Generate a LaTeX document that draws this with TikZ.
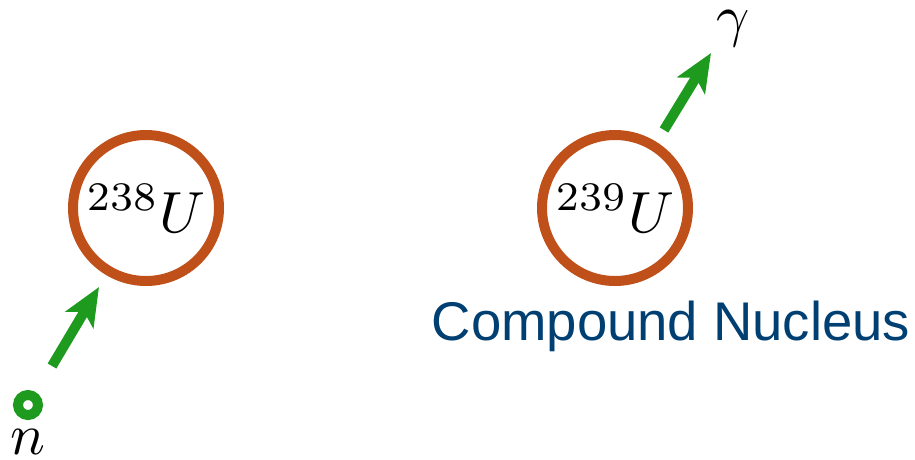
\documentclass[tikz,border=0pt]{standalone}
\usepackage{graphicx}
\usepackage{fontspec}
\newfontfamily\labelfont{Liberation Sans}
\usetikzlibrary{arrows.meta}
\definecolor{nucorange}{RGB}{192,80,26}
\definecolor{ngreen}{RGB}{30,154,30}
\definecolor{nblue}{RGB}{0,63,114}
\begin{document}
\begin{tikzpicture}[x=1pt,y=-1pt,
  nucleus/.style={circle,draw=nucorange,line width=10pt,minimum size=146pt,inner sep=0pt},
  particle/.style={draw=ngreen,line width=10pt,-{Stealth[length=38pt,width=32pt,inset=9pt]}},
  mathlbl/.style={inner sep=0pt,anchor=base}]
\useasboundingbox (0,0) rectangle (915,459);
\node[nucleus] (u238) at (146,208) {};
\node[nucleus] (u239) at (615,208) {};
\node[mathlbl] (l238) at (146,232) {\scalebox{5.8}{$^{238}U$}};
\node[mathlbl] (l239) at (615,232) {\scalebox{5.8}{$^{239}U$}};
\node[circle,draw=ngreen,line width=10pt,minimum size=20pt,inner sep=0pt] (neut) at (28,405) {};
\node[mathlbl] (nlbl) at (28,454) {\scalebox{5.8}{$n$}};
\node[mathlbl] (glbl) at (733,35) {\scalebox{5.8}{$\gamma$}};
\node[anchor=base,text=nblue,inner sep=0pt,font=\labelfont\fontsize{54.5}{60}\selectfont] (cn) at (671,340) {Compound Nucleus};
\coordinate (a1s) at (52,366);
\coordinate (a1e) at (99,287);
\coordinate (a2s) at (664,130);
\coordinate (a2e) at (711,53);
\draw[particle] (a1s) -- (a1e);
\draw[particle] (a2s) -- (a2e);
\end{tikzpicture}
\end{document}
